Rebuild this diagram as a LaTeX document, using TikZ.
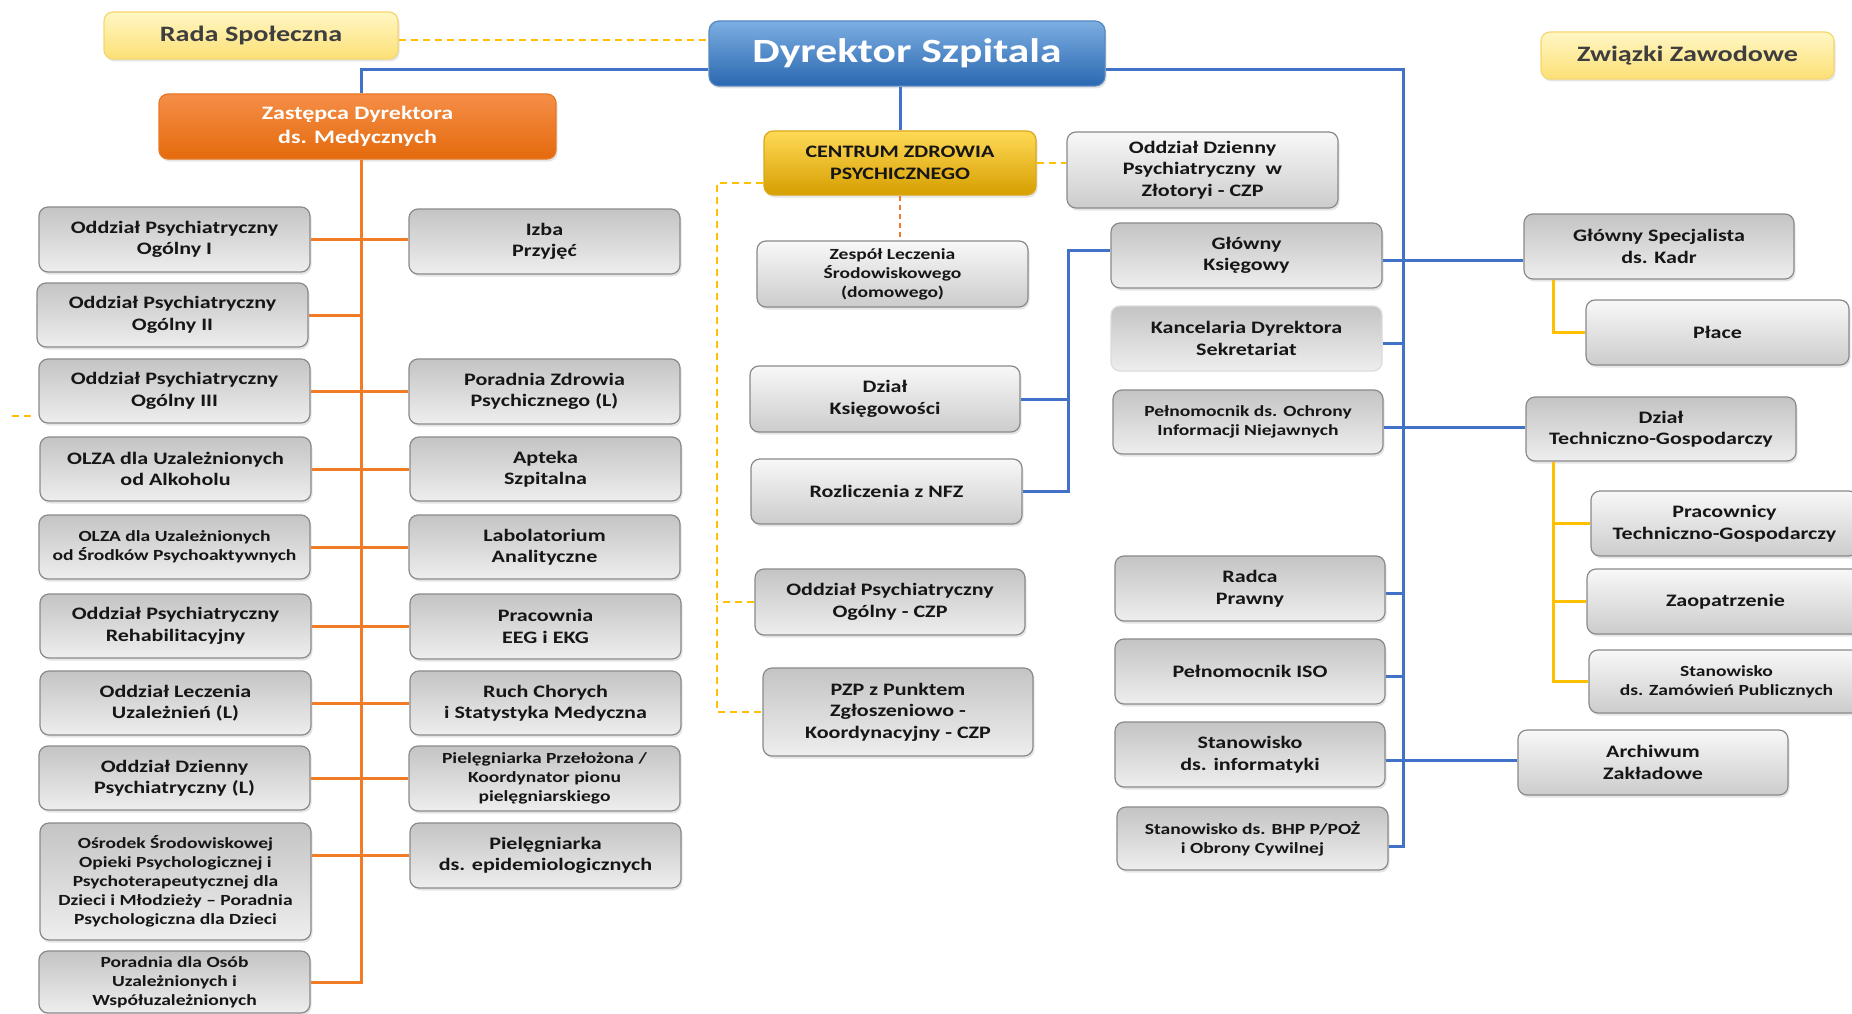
\documentclass[tikz,border=0pt]{standalone}
\usepackage{fontspec}
\newfontfamily\cbf{Carlito}[FakeStretch=1.26]
\newfontfamily\cbd{Carlito}[FakeStretch=1.28]
\usetikzlibrary{shadows,calc}
\definecolor{txt}{RGB}{22,22,22}
\definecolor{gborder}{RGB}{138,138,138}
\definecolor{gtop}{RGB}{196,196,196}
\definecolor{gbot}{RGB}{238,238,238}
\definecolor{ltop}{RGB}{248,248,248}
\definecolor{lbot}{RGB}{204,204,204}
\definecolor{blueln}{RGB}{66,114,200}
\definecolor{orln}{RGB}{240,124,40}
\definecolor{yel}{RGB}{255,192,0}
\definecolor{dtop}{RGB}{124,174,226}
\definecolor{dbot}{RGB}{42,104,176}
\definecolor{ztop}{RGB}{245,142,72}
\definecolor{zbot}{RGB}{228,106,12}
\definecolor{ctop}{RGB}{255,218,86}
\definecolor{cbot}{RGB}{214,158,0}
\definecolor{rtop}{RGB}{255,246,196}
\definecolor{rbot}{RGB}{252,224,118}
\definecolor{rborder}{RGB}{246,214,110}
\definecolor{rtxt}{RGB}{62,62,62}
\newcommand\fntA{\cbf\bfseries\fontsize{17.5}{21.5}\selectfont}
\newcommand\fntB{\cbf\bfseries\fontsize{15.5}{19}\selectfont}
\newcommand\fntC{\cbf\bfseries\fontsize{19}{24}\selectfont}
\newcommand\fntD{\cbd\bfseries\fontsize{34}{40}\selectfont}
\newcommand\fntE{\cbd\bfseries\fontsize{22}{26}\selectfont}
\begin{document}
\begin{tikzpicture}[x=1pt,y=-1pt,
  R/.style args={#1/#2/#3/#4}{at={({(#1+#3)/2},{(#2+#4)/2})},
     minimum width={(#3-#1)*1pt}, minimum height={(#4-#2)*1pt}},
  box/.style={rounded corners=9pt, inner sep=0pt, align=center, text=txt,
     font=\fntA, line width=1.2pt},
  shd/.style={drop shadow={shadow xshift=1.5pt, shadow yshift=-2.5pt, opacity=0.2}},
  gbox/.style={box, shd, draw=gborder, top color=gtop, bottom color=gbot},
  lbox/.style={box, shd, draw=gborder, top color=ltop, bottom color=lbot},
  small/.style={font=\fntB},
  bl/.style={draw=blueln, line width=3pt},
  orl/.style={draw=orln, line width=3pt},
  ys/.style={draw=yel, line width=3pt},
  yd/.style={draw=yel, line width=2pt, dash pattern=on 7pt off 5pt},
  od/.style={draw=orln, line width=1.8pt, dash pattern=on 5pt off 4pt}]
\useasboundingbox (0,0) rectangle (1852,1014);
\fill[white] (0,0) rectangle (1852,1014);
\clip (0,0) rectangle (1852,1014);

% ---- top level
\node[box, R=104/12/398/59, draw=rborder, top color=rtop, bottom color=rbot,
      font=\fntE, text=rtxt, shd] (rada) {Rada Społeczna};
\node[box, R=709/21/1105/86, rounded corners=10pt, draw=dbot!80, top color=dtop,
      bottom color=dbot, font=\fntD, text=white, shd] (dyr) {Dyrektor Szpitala};
\node[box, R=1541/32/1834/79, draw=rborder, top color=rtop, bottom color=rbot,
      font=\fntE, text=rtxt, shd] (zwi) {Związki Zawodowe};
\node[box, R=159/94/556/159, draw=zbot!90, top color=ztop, bottom color=zbot,
      font=\fntC, text=white, shd] (zast) {Zastępca Dyrektora\\ds. Medycznych};
\node[box, R=764/131/1036/195, draw=cbot!90, top color=ctop, bottom color=cbot,
      shd] (czp) {CENTRUM ZDROWIA\\PSYCHICZNEGO};
\node[lbox, R=1067/132/1338/208] (zlo) {Oddział Dzienny\\Psychiatryczny~~w\\Złotoryi - CZP};

% ---- left column
\node[gbox, R=39/207/310/272] (og1) {Oddział Psychiatryczny\\Ogólny I};
\node[gbox, R=37/283/308/347] (og2) {Oddział Psychiatryczny\\Ogólny II};
\node[gbox, R=39/359/310/423] (og3) {Oddział Psychiatryczny\\Ogólny III};
\node[gbox, R=40/437/311/501] (olza1) {OLZA dla Uzależnionych\\od Alkoholu};
\node[gbox, R=39/515/310/579, small] (olza2) {OLZA dla Uzależnionych\\od Środków Psychoaktywnych};
\node[gbox, R=40/594/311/658] (reh) {Oddział Psychiatryczny\\Rehabilitacyjny};
\node[gbox, R=40/671/311/735] (lecz) {Oddział Leczenia\\Uzależnień (L)};
\node[gbox, R=39/746/310/810] (dzien) {Oddział Dzienny\\Psychiatryczny (L)};
\node[gbox, R=40/823/311/940, small] (osr) {Ośrodek Środowiskowej\\Opieki Psychologicznej i\\Psychoterapeutycznej dla\\Dzieci i Młodzieży – Poradnia\\Psychologiczna dla Dzieci};
\node[gbox, R=39/951/310/1013, small] (por) {Poradnia dla Osób\\Uzależnionych i\\Współuzależnionych};

% ---- second column
\node[gbox, R=409/209/680/274] (izba) {Izba\\Przyjęć};
\node[gbox, R=409/359/680/424] (pzdr) {Poradnia Zdrowia\\Psychicznego (L)};
\node[gbox, R=410/437/681/501] (apt) {Apteka\\Szpitalna};
\node[gbox, R=409/515/680/579] (lab) {Labolatorium\\Analityczne};
\node[gbox, R=410/594/681/659] (eeg) {Pracownia\\EEG i EKG};
\node[gbox, R=410/671/681/735] (ruch) {Ruch Chorych\\i Statystyka Medyczna};
\node[gbox, R=409/746/680/811, small] (piel1) {Pielęgniarka Przełożona /\\Koordynator pionu\\pielęgniarskiego};
\node[gbox, R=410/823/681/888] (piel2) {Pielęgniarka\\ds. epidemiologicznych};

% ---- middle column
\node[lbox, R=757/241/1028/307, small] (zesp) {Zespół Leczenia\\Środowiskowego\\(domowego)};
\node[lbox, R=750/366/1020/432] (ksieg) {Dział\\Księgowości};
\node[lbox, R=751/459/1022/524] (nfz) {Rozliczenia z NFZ};
\node[gbox, R=755/569/1025/635] (ogczp) {Oddział Psychiatryczny\\Ogólny - CZP};
\node[gbox, R=763/668/1033/756] (pzp) {PZP z Punktem\\Zgłoszeniowo -\\Koordynacyjny - CZP};

% ---- right-centre column
\node[gbox, R=1111/223/1382/288] (glk) {Główny\\Księgowy};
\node[box, R=1111/306/1382/371, draw=black!14, top color=gtop, bottom color=gbot] (kanc) {Kancelaria Dyrektora\\Sekretariat};
\node[gbox, R=1113/390/1383/454, small] (pelo) {Pełnomocnik ds. Ochrony\\Informacji Niejawnych};
\node[gbox, R=1115/556/1385/621] (radca) {Radca\\Prawny};
\node[gbox, R=1115/639/1385/704] (iso) {Pełnomocnik ISO};
\node[gbox, R=1115/722/1385/787] (inf) {Stanowisko\\ds. informatyki};
\node[gbox, R=1117/807/1388/870, small] (bhp) {Stanowisko ds. BHP P/POŻ\\i Obrony Cywilnej};

% ---- far right
\node[gbox, R=1524/214/1794/279] (kadr) {Główny Specjalista\\ds. Kadr};
\node[lbox, R=1586/300/1849/365] (place) {Płace};
\node[gbox, R=1526/397/1796/461] (dtg) {Dział\\Techniczno-Gospodarczy};
\node[lbox, R=1591/491/1858/556] (prac) {Pracownicy\\Techniczno-Gospodarczy};
\node[lbox, R=1587/569/1864/634] (zaop) {Zaopatrzenie};
\node[lbox, R=1589/650/1864/713, small] (zam) {Stanowisko\\ds. Zamówień Publicznych};
\node[lbox, R=1518/730/1788/795] (arch) {Archiwum\\Zakładowe};

% ---- coordinates
\coordinate (ot) at ([xshift=3.5pt]zast.south);
\coordinate (tR) at (1403,70);
\coordinate (tRb) at (1403,846);
\coordinate (kb) at ([xshift=-42pt,yshift=5pt]glk.west);
\coordinate (yv) at (717,183);
\coordinate (s1) at (12,416);
\coordinate (s2) at (35,416);
\coordinate (ky) at ([xshift=30pt]kadr.south west);
\coordinate (dy) at ([xshift=28pt]dtg.south west);

% ---- blue connectors
\draw[bl] ([yshift=-16.5pt]dyr.west) -| ([xshift=3.5pt]zast.north);
\draw[bl] ([yshift=-16.5pt]dyr.east) -- (tR) -- (tRb) -- (bhp.east |- tRb);
\draw[bl] (czp.north |- dyr.south) -- (czp.north);
\draw[bl] ([yshift=-5pt]glk.east) -- ([yshift=-5pt]glk.east -| kadr.west);
\draw[bl] ([yshift=-5pt]kanc.east) -- ([yshift=-5pt]kanc.east -| tR);
\draw[bl] ([yshift=-5pt]pelo.east) -- ([yshift=-5pt]pelo.east -| dtg.west);
\draw[bl] ([yshift=-5pt]radca.east) -- ([yshift=-5pt]radca.east -| tR);
\draw[bl] ([yshift=-5pt]iso.east) -- ([yshift=-5pt]iso.east -| tR);
\draw[bl] ([yshift=-6pt]inf.east) -- ([yshift=-6pt]inf.east -| arch.west);
\draw[bl] (ksieg.east) -| (kb) -- (kb -| glk.west);
\draw[bl] (nfz.east) -| (kb);

% ---- orange connectors
\draw[orl] (ot) |- (por.east);
\draw[orl] (og1.east) -- (og1.east -| izba.west);
\draw[orl] (og2.east) -- (og2.east -| ot);
\draw[orl] (og3.east) -- (og3.east -| pzdr.west);
\draw[orl] (olza1.east) -- (olza1.east -| apt.west);
\draw[orl] (olza2.east) -- (olza2.east -| lab.west);
\draw[orl] (reh.east) -- (reh.east -| eeg.west);
\draw[orl] (lecz.east) -- (lecz.east -| ruch.west);
\draw[orl] (dzien.east) -- (dzien.east -| piel1.west);
\draw[orl] (piel2.west) -- (piel2.west -| osr.east);
\draw[od] (czp.south) -- (czp.south |- zesp.north);

% ---- yellow connectors
\draw[yd] ([yshift=-5pt]rada.east) -- ([yshift=-5pt]rada.east -| dyr.west);
\draw[yd] (czp.east) -- (czp.east -| zlo.west);
\draw[yd] ([yshift=-20pt]czp.west) -| (yv) |- (pzp.west);
\draw[yd] (ogczp.west) -- (ogczp.west -| yv);
\draw[yd] (s1) -- (s2);
\draw[ys] (ky) |- (place.west);
\draw[ys] (dy) |- (zam.west);
\draw[ys] (prac.west) -- (prac.west -| dy);
\draw[ys] (zaop.west) -- (zaop.west -| dy);
\end{tikzpicture}
\end{document}
